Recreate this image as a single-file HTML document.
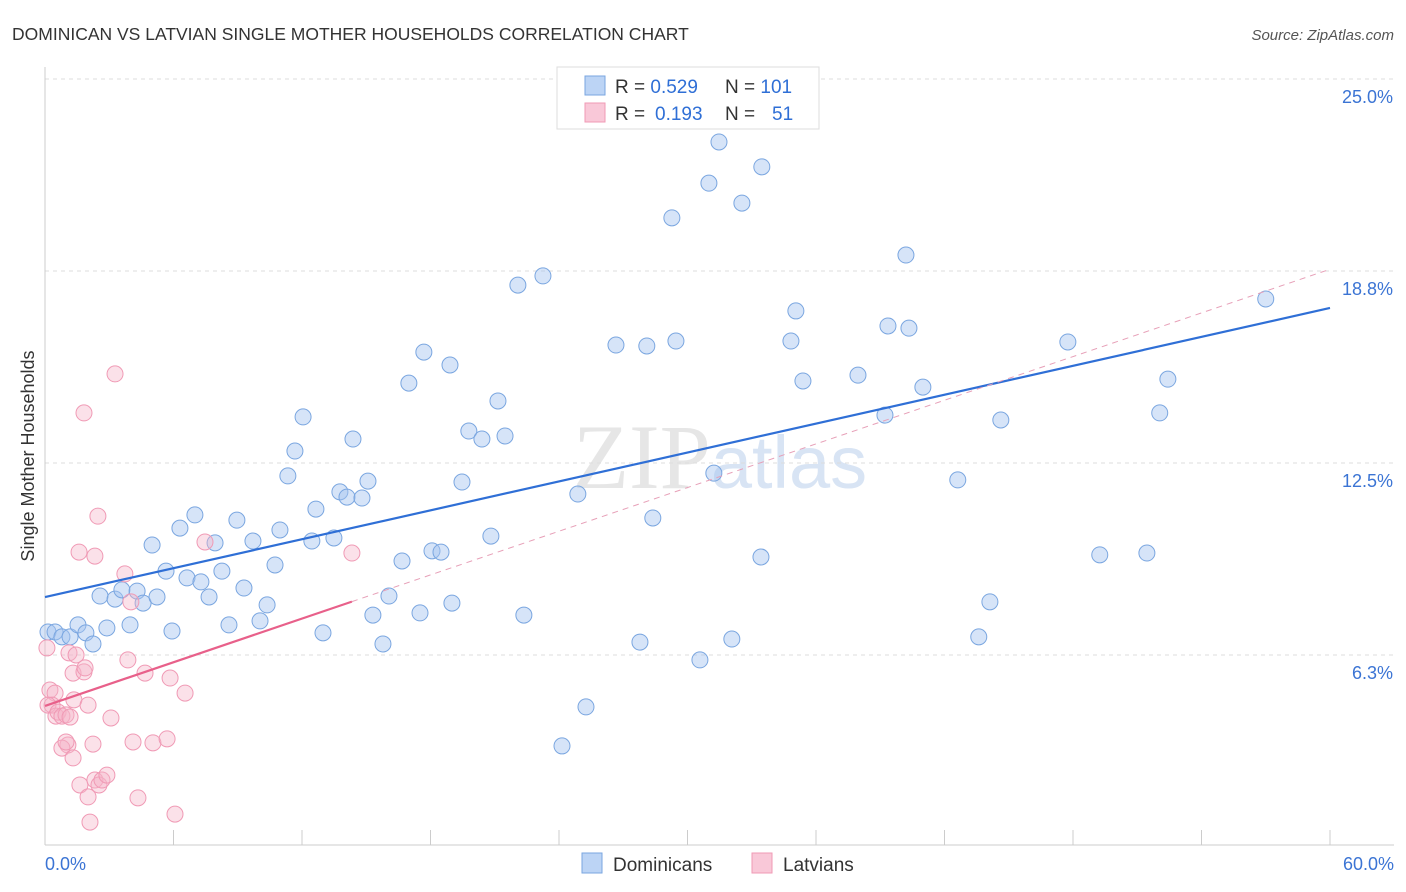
<!DOCTYPE html>
<html><head><meta charset="utf-8"><style>
body{margin:0;background:#fff;font-family:"Liberation Sans",sans-serif;}
svg{display:block}
</style></head><body>
<svg id="chart" width="1406" height="892" viewBox="0 0 1406 892">
<text x="12" y="40" font-size="17.5" fill="#333">DOMINICAN VS LATVIAN SINGLE MOTHER HOUSEHOLDS CORRELATION CHART</text>
<text x="1394" y="40" font-size="15" fill="#555" font-style="italic" text-anchor="end">Source: ZipAtlas.com</text>
<text x="720" y="488" font-size="92" fill="#e6e6e6" text-anchor="middle" font-family="Liberation Serif,serif">ZIP<tspan fill="#d8e4f4" font-family="Liberation Sans,sans-serif" font-size="74">atlas</tspan></text>
<text transform="translate(34,456) rotate(-90)" font-size="18" fill="#333" text-anchor="middle">Single Mother Households</text>
<g id="grid"></g><g id="marks"></g>
<g>
<rect x="557" y="67" width="262" height="62" fill="#fff" stroke="#ddd"/>
<rect x="585" y="76" width="20" height="19" fill="#bcd4f5" stroke="#7aa6e0"/>
<rect x="585" y="103" width="20" height="19" fill="#f9c8d8" stroke="#f09ab5"/>
<text x="615" y="93" font-size="19" fill="#333">R = <tspan fill="#2f6fd6">0.529</tspan><tspan x="725">N = </tspan><tspan fill="#2f6fd6">101</tspan></text>
<text x="615" y="120" font-size="19" fill="#333">R = <tspan x="655" fill="#2f6fd6">0.193</tspan><tspan x="725">N = </tspan><tspan x="772" fill="#2f6fd6">51</tspan></text>
</g>
<g>
<rect x="582" y="853" width="20" height="20" fill="#bcd4f5" stroke="#7aa6e0"/>
<text x="613" y="871" font-size="19" fill="#333">Dominicans</text>
<rect x="752" y="853" width="20" height="20" fill="#f9c8d8" stroke="#f09ab5"/>
<text x="783" y="871" font-size="19" fill="#333">Latvians</text>
</g>
</svg>
<script>
const yTicks=[25,18.75,12.5,6.25];
const yTickLabels=["25.0%","18.8%","12.5%","6.3%"];
const xTickVals=[0,6,12,18,24,30,36,42,48,54,60];
const domX=[0.14,0.47,0.79,1.17,1.54,1.91,2.24,2.89,2.57,3.27,3.59,3.97,4.30,4.58,5.00,5.23,5.65,5.93,6.30,6.63,7.00,7.28,7.66,7.94,8.26,8.59,8.96,9.29,9.71,10.04,10.37,10.74,10.97,11.34,11.67,12.05,12.46,12.65,12.98,13.49,13.77,14.10,14.38,14.80,15.08,15.31,15.78,16.06,16.67,16.99,17.51,17.69,18.07,18.49,18.91,19.0,19.47,19.79,20.40,20.82,21.15,21.48,22.08,22.36,23.25,24.14,24.88,25.26,26.66,27.78,28.10,28.38,29.27,29.46,30.58,31.0,31.23,31.47,32.07,32.54,33.43,33.47,34.83,35.06,35.39,37.96,39.22,39.36,40.34,40.20,40.99,42.62,43.60,44.12,44.63,47.76,49.25,51.45,52.05,52.43,57.0];
const domY=[7.0,7.0,6.84,6.84,7.23,6.97,6.61,7.13,8.17,8.07,8.37,7.23,8.33,7.94,9.83,8.14,8.98,7.03,10.38,8.76,10.81,8.63,8.14,9.90,8.98,7.23,10.64,8.43,9.96,7.36,7.88,9.18,10.32,12.08,12.89,14.0,9.96,11.0,6.97,10.06,11.56,11.39,13.28,11.36,11.91,7.55,6.61,8.17,9.31,15.10,7.62,16.11,9.64,9.60,15.69,7.94,11.88,13.54,13.28,10.12,14.52,13.38,18.29,7.55,18.59,3.29,11.49,4.56,16.34,6.67,16.31,10.71,20.48,16.47,6.09,21.61,12.17,22.95,6.77,20.96,9.44,22.14,16.47,17.45,15.17,15.36,14.06,16.96,16.89,19.27,14.97,11.95,6.84,7.98,13.90,16.44,9.51,9.57,14.13,15.23,17.84];
const latX=[0.09,0.23,0.47,0.33,0.14,0.51,0.61,0.79,0.98,1.07,0.79,0.98,1.17,1.35,1.31,1.12,1.31,1.45,1.63,1.82,1.87,2.01,1.82,2.01,2.10,2.24,2.33,2.47,2.33,1.59,2.52,2.66,2.89,3.08,3.27,3.73,3.87,4.01,4.11,4.34,4.67,5.04,5.70,5.84,6.07,6.54,7.47,14.33];
const latY=[6.48,5.11,5.01,4.62,4.62,4.26,4.39,4.26,4.30,3.32,3.22,3.42,4.23,4.79,5.66,6.32,2.90,6.25,2.02,5.70,5.83,4.62,14.13,1.63,0.81,3.35,2.18,10.77,9.47,9.60,2.02,2.18,2.34,4.20,15.40,8.89,6.09,7.98,3.42,1.60,5.66,3.39,3.52,5.50,1.07,5.01,9.93,9.57];
const NS="http://www.w3.org/2000/svg";
const X0=45,X1=1330,Y0=847,PY=30.72;
function sx(v){return X0+(X1-X0)*v/60;}
function sy(v){return Y0-v*PY;}
function mk(tag,attrs,parent){const e=document.createElementNS(NS,tag);for(const k in attrs)e.setAttribute(k,attrs[k]);parent.appendChild(e);return e;}
const grid=document.getElementById('grid'),marks=document.getElementById('marks');
yTicks.forEach((t,i)=>{
 const l=mk('line',{x1:45,x2:1394,y1:sy(t),y2:sy(t),stroke:'#ddd','stroke-dasharray':'4,4'},grid);
 
 
 const tx=mk('text',{x:1393,y:sy(t)+24,'font-size':18,fill:'#3b74d4','text-anchor':'end'},grid);
 tx.textContent=yTickLabels[i];
 
 
});
const ax=mk('line',{x1:45,x2:1394,y1:845,y2:845,stroke:'#ccc'},grid);


const ay=mk('line',{x1:45,x2:45,y1:67,y2:845,stroke:'#ccc'},grid);


xTickVals.forEach(v=>{
 const t=mk('line',{x1:sx(v),x2:sx(v),y1:830,y2:845,stroke:'#ccc'},grid);
 
 
});
const xl0=mk('text',{x:45,y:870,'font-size':18,fill:'#3b74d4'},grid);xl0.textContent='0.0%';


const xl1=mk('text',{x:1394,y:870,'font-size':18,fill:'#3b74d4','text-anchor':'end'},grid);xl1.textContent='60.0%';


function fit(xs,ys){const n=xs.length;let mx=0,my=0;for(let i=0;i<n;i++){mx+=xs[i];my+=ys[i];}mx/=n;my/=n;let a=0,b=0;for(let i=0;i<n;i++){a+=(xs[i]-mx)*(ys[i]-my);b+=(xs[i]-mx)**2;}const s=a/b;return [my-s*mx,s];}
domX.forEach((v,i)=>{
 const c=mk('circle',{cx:sx(v),cy:sy(domY[i]),r:8,fill:'rgba(164,196,240,0.45)',stroke:'#7aa6e0','stroke-width':1},marks);
 
 
});
latX.forEach((v,i)=>{
 const c=mk('circle',{cx:sx(v),cy:sy(latY[i]),r:8,fill:'rgba(245,180,200,0.4)',stroke:'#f09ab5','stroke-width':1},marks);
 
 
});
const fd=fit(domX,domY),fl=fit(latX,latY);
const bl=mk('line',{x1:sx(0),y1:sy(fd[0]),x2:sx(60),y2:sy(fd[0]+fd[1]*60),stroke:'#2f6fd6','stroke-width':2.2},marks);


const lmax=Math.max(...latX);
const pd=mk('line',{x1:sx(lmax),y1:sy(fl[0]+fl[1]*lmax),x2:sx(60),y2:sy(fl[0]+fl[1]*60),stroke:'#e7a0b8','stroke-width':1,'stroke-dasharray':'6,5'},marks);


const pl=mk('line',{x1:sx(0),y1:sy(fl[0]),x2:sx(lmax),y2:sy(fl[0]+fl[1]*lmax),stroke:'#e8608a','stroke-width':2.2},marks);


</script>
</body></html>
